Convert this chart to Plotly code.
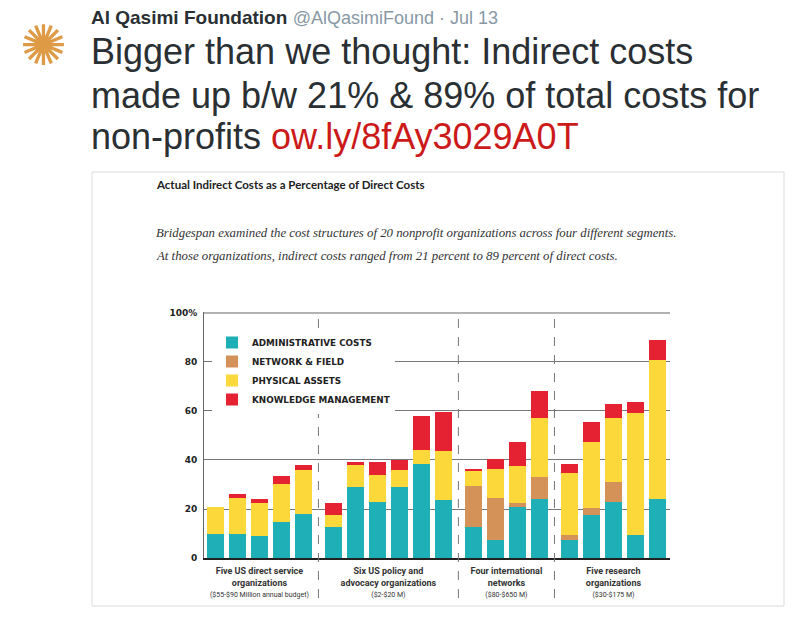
import plotly.graph_objects as go

# values (% of direct costs), left to right, 20 organizations
group_names = [
    "<b>Five US direct service<br>organizations</b><br><span style='font-size:7px;font-weight:normal'>($55-$90 Million annual budget)</span>",
    "<b>Six US policy and<br>advocacy organizations</b><br><span style='font-size:7px;font-weight:normal'>($2-$20 M)</span>",
    "<b>Four international<br>networks</b><br><span style='font-size:7px;font-weight:normal'>($80-$650 M)</span>",
    "<b>Five research<br>organizations</b><br><span style='font-size:7px;font-weight:normal'>($30-$175 M)</span>",
]
group_sizes = [5, 6, 4, 5]

admin = [10, 10, 9, 14.5, 18, 12.5, 29, 23, 29, 38.5, 23.5, 12.5, 7.5, 21, 24, 7.5, 17.5, 23, 9.5, 24]
network = [0, 0, 0, 0, 0, 0, 0, 0, 0, 0, 0, 17, 17, 1.5, 9, 2, 3, 8, 0, 0]
physical = [11, 14.5, 13.5, 15.5, 18, 5, 9, 11, 7, 5.5, 20, 6, 12, 15, 24, 25, 27, 26, 49.5, 57]
knowledge = [0, 1.5, 1.5, 3.5, 2, 5, 1, 5, 4, 14, 16, 1, 4, 10, 11, 4, 8, 6, 4.5, 8]

series = [
    ("ADMINISTRATIVE COSTS", admin, "#1eb0b6"),
    ("NETWORK & FIELD", network, "#d49259"),
    ("PHYSICAL ASSETS", physical, "#fdd83a"),
    ("KNOWLEDGE MANAGEMENT", knowledge, "#e42232"),
]

# bar positions: one unit per bar, a wider step between groups
GROUP_STEP = 1.375
xpos, centers, seps = [], [], []
cur = 0.0
for gi, n in enumerate(group_sizes):
    grp = [cur + i for i in range(n)]
    xpos += grp
    centers.append(sum(grp) / n)
    cur = grp[-1] + GROUP_STEP
    if gi < len(group_sizes) - 1:
        seps.append(grp[-1] + GROUP_STEP / 2)

# plot area in page pixels; the page body adds an 8px margin round the figure
OFF = 8
L, R, T, B = 204, 670, 312, 558
W, H = R - L, B - T

def px(x):
    return (x - L) / W

def py(y):
    return (B - y) / H

fig = go.Figure()
for name, vals, col in series:
    fig.add_trace(go.Bar(
        x=xpos, y=vals, name=name, width=0.78,
        marker=dict(color=col, line=dict(width=0)),
        hoverinfo="skip",
    ))

for s in seps:
    fig.add_shape(type="line", xref="x", yref="paper", x0=s, x1=s, y0=py(598), y1=1,
                  line=dict(color="#777", width=1, dash="dash"))

# top rule at 100%
fig.add_shape(type="line", xref="paper", yref="y", x0=0, x1=1, y0=100, y1=100,
              line=dict(color="#666", width=1.2), layer="below")

# card around the chart image
fig.add_shape(type="rect", xref="paper", yref="paper",
              x0=px(92), x1=px(784), y0=py(606), y1=py(172),
              line=dict(color="#dcdcdc", width=1), layer="below")

sans = "Liberation Sans, Arial, sans-serif"
notes = [
    # tweet header + text
    dict(x=px(89), y=py(17), text="<b>Al Qasimi Foundation</b> <span style='color:#8899a6;font-size:18px'>@AlQasimiFound · Jul 13</span>",
         font=dict(family=sans, size=19, color="#292f33")),
    dict(x=px(89), y=py(52), text="Bigger than we thought: Indirect costs",
         font=dict(family=sans, size=36, color="#292f33")),
    dict(x=px(89), y=py(95), text="made up b/w 21% &amp; 89% of total costs for",
         font=dict(family=sans, size=36, color="#292f33")),
    dict(x=px(89), y=py(136), text="non-profits <span style='color:#cc1a1a'>ow.ly/8fAy3029A0T</span>",
         font=dict(family=sans, size=36, color="#292f33")),
    # chart title and subtitle
    dict(x=px(154), y=py(185), text="<b>Actual Indirect Costs as a Percentage of Direct Costs</b>",
         font=dict(family="Lato, sans-serif", size=11.5, color="#222")),
    dict(x=px(154), y=py(233),
         text="<i>Bridgespan examined the cost structures of 20 nonprofit organizations across four different segments.</i>",
         font=dict(family="Liberation Serif, serif", size=12.8, color="#333")),
    dict(x=px(154), y=py(256),
         text="<i>At those organizations, indirect costs ranged from 21 percent to 89 percent of direct costs.</i>",
         font=dict(family="Liberation Serif, serif", size=12.8, color="#333")),
]
for a in notes:
    fig.add_annotation(xref="paper", yref="paper", xanchor="left", yanchor="middle",
                       showarrow=False, **a)

# logo
fig.add_annotation(xref="paper", yref="paper", x=px(43), y=py(45), text="✺",
                   xanchor="center", yanchor="middle", showarrow=False, borderpad=0,
                   font=dict(family="DejaVu Sans", size=56, color="#de9a45"))

fig.update_layout(
    width=800, height=617,
    margin=dict(l=L - OFF, r=800 - (R - OFF), t=T - OFF, b=617 - (B - OFF)),
    barmode="stack",
    paper_bgcolor="white", plot_bgcolor="white",
    showlegend=True,
    legend=dict(x=px(212), y=py(328), xanchor="left", yanchor="top",
                traceorder="normal", bgcolor="white", borderwidth=0,
                font=dict(family="DejaVu Sans", size=8.8, color="#222", weight="bold")),
    xaxis=dict(range=[-0.524, 20.7], tickvals=centers, ticktext=group_names,
               showgrid=False, zeroline=False, ticks="",
               showline=True, linecolor="#222", linewidth=2,
               ticklabelstandoff=3,
               tickfont=dict(family="Liberation Sans Narrow, Roboto, sans-serif", size=9, color="#333")),
    yaxis=dict(range=[0, 100.4], tickvals=[0, 20, 40, 60, 80, 100],
               ticktext=["0", "20", "40", "60", "80", "100%"],
               showgrid=True, gridcolor="#777", gridwidth=1, zeroline=False,
               showline=True, linecolor="#666", linewidth=1, ticks="",
               ticklabelstandoff=4,
               tickfont=dict(family="DejaVu Sans", size=9, color="#222", weight="bold")),
)

fig.write_html("out.html")
